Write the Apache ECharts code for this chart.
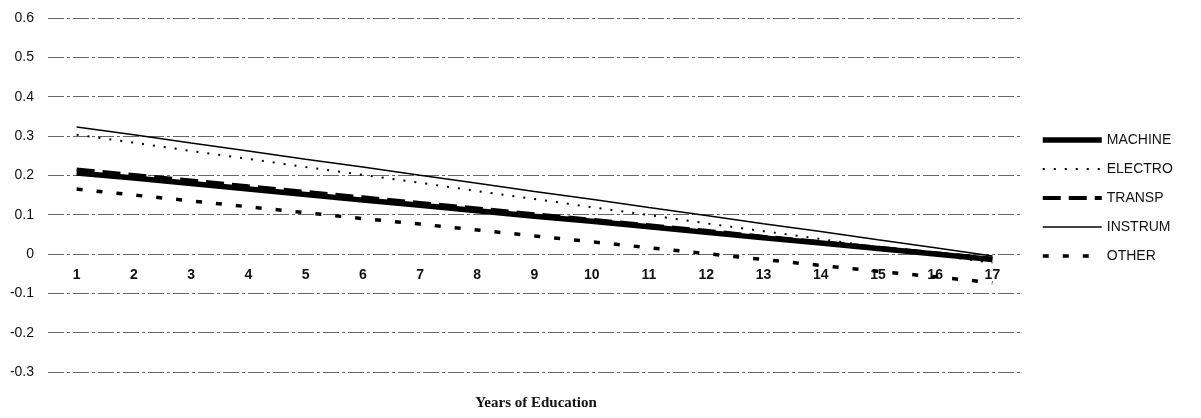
<!DOCTYPE html>
<html>
<head>
<meta charset="utf-8">
<script src="https://cdn.jsdelivr.net/npm/echarts@6/dist/echarts.min.js"></script>
<style>
  html, body { margin: 0; padding: 0; background: #fff; }
  #main { width: 1201px; height: 418px; }
</style>
</head>
<body>
<div id="main"></div>
<script>
  // 基于准备好的dom，初始化一个echarts实例
  var myChart = echarts.init(document.getElementById("main"));

  // 横轴：受教育年限
  var years = ['1', '2', '3', '4', '5', '6', '7', '8', '9', '10', '11', '12', '13', '14', '15', '16', '17'];
  // 各行业数值
  var machine = [0.206, 0.193, 0.179, 0.165, 0.151, 0.137, 0.124, 0.110, 0.096, 0.083, 0.069, 0.055, 0.041, 0.028, 0.014, 0.000, -0.014];
  var electro = [0.303, 0.283, 0.262, 0.242, 0.221, 0.201, 0.181, 0.160, 0.140, 0.119, 0.099, 0.078, 0.058, 0.038, 0.017, -0.003, -0.022];
  var transp = [0.215, 0.201, 0.187, 0.172, 0.158, 0.144, 0.130, 0.116, 0.101, 0.087, 0.073, 0.059, 0.044, 0.030, 0.016, 0.002, -0.012];
  var instrum = [0.323, 0.303, 0.282, 0.262, 0.241, 0.221, 0.200, 0.180, 0.159, 0.139, 0.118, 0.098, 0.077, 0.057, 0.036, 0.016, -0.005];
  var other = [0.165, 0.150, 0.135, 0.120, 0.105, 0.090, 0.076, 0.061, 0.046, 0.031, 0.016, 0.001, -0.014, -0.029, -0.044, -0.058, -0.073];
  var seriesNames = ['MACHINE', 'ELECTRO', 'TRANSP', 'INSTRUM', 'OTHER'];

  function lineSeries(name, data, width, dash) {
      return {
          name: name,
          type: 'line',
          data: data,
          symbol: 'none',
          silent: true,
          lineStyle: {
              color: '#000',
              width: width,
              type: dash
          },
          itemStyle: { color: 'rgba(0,0,0,0)', borderWidth: 0 } // 图例里不要圆点
      };
  }

  var option = {
      animation: false,
      backgroundColor: '#fff',
      textStyle: {
          fontFamily: 'Liberation Sans, Arial, sans-serif',
          color: '#111'
      },
      grid: {
          left: 48,
          right: 180,
          top: 18,
          bottom: 46
      },
      legend: {
          orient: 'vertical',
          left: 1035,
          top: 128,
          itemWidth: 59,
          itemHeight: 14,
          itemGap: 15,
          data: seriesNames,
          itemStyle: { opacity: 0 },
          lineStyle: { width: 'inherit' }, //图例线宽跟随系列
          textStyle: {
              fontSize: 14,
              color: '#111',
              fontFamily: 'Liberation Sans, Arial, sans-serif'
          }
      },
      xAxis: {
          type: 'category',
          data: years,
          boundaryGap: true,
          offset: -118, //把刻度标签挪到 0 线下方
          axisLine: { show: false, onZero: false },
          axisTick: { show: false },
          axisLabel: {
              interval: 0,
              margin: 14,
              fontSize: 14,
              fontWeight: 'bold',
              color: '#111'
          },
          splitLine: { show: false }
      },
      yAxis: {
          type: 'value',
          min: -0.3,
          max: 0.6,
          interval: 0.1,
          axisLine: { show: false },
          axisTick: { show: false },
          axisLabel: {
              margin: 14,
              fontSize: 14,
              color: '#111'
          },
          splitLine: {
              show: true,
              lineStyle: {
                  color: '#666',
                  width: 1,
                  type: [16, 3, 3, 3]
              }
          }
      },
      graphic: [{
          type: 'text',
          x: 536,
          y: 403,
          style: {
              text: 'Years of Education',
              fontFamily: 'Liberation Serif, Times New Roman, serif',
              fontWeight: 'bold',
              fontSize: 15,
              fill: '#111',
              textAlign: 'center',
              textVerticalAlign: 'middle'
          }
      }],
      series: [
          lineSeries('MACHINE', machine, 5.5, 'solid'),
          lineSeries('ELECTRO', electro, 2, [2, 9]),
          lineSeries('TRANSP', transp, 4, [18, 8]),
          lineSeries('INSTRUM', instrum, 1.5, 'solid'),
          lineSeries('OTHER', other, 3.5, [6, 14])
      ]
  };

  myChart.setOption(option);
</script>
</body>
</html>
